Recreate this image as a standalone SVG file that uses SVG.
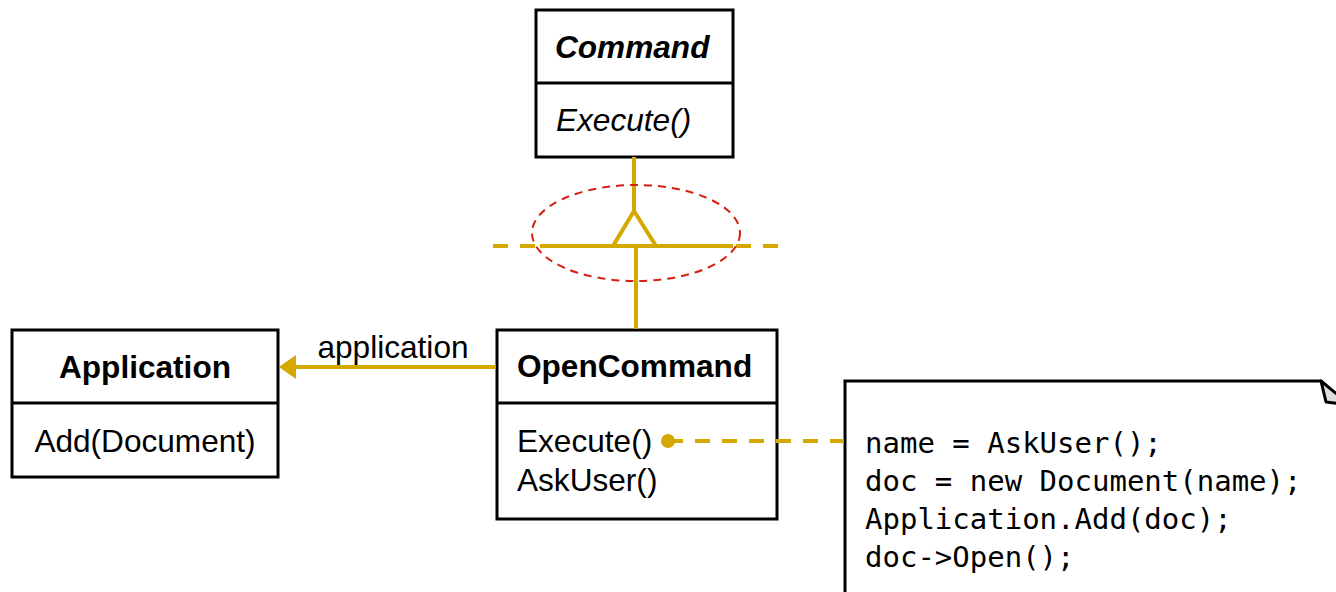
<svg xmlns="http://www.w3.org/2000/svg" width="1336" height="592" viewBox="0 0 1336 592">
  <style>
    .box { fill: #fff; stroke: #000; stroke-width: 3; }
    .sep { stroke: #000; stroke-width: 3; }
    .name { font-family: "Liberation Sans", Arial, sans-serif; font-size: 31.6px; font-weight: bold; fill: #000; }
    .op { font-family: "Liberation Sans", Arial, sans-serif; font-size: 31.6px; fill: #000; }
    .code { font-family: "DejaVu Sans Mono", "Liberation Mono", monospace; font-size: 29px; fill: #000; }
    .link { stroke: #D5A800; stroke-width: 4; fill: none; }
    .dash { stroke-dasharray: 15 12; }
  </style>

  <!-- Command (abstract) -->
  <g id="node-command">
    <rect class="box" x="536" y="10" width="197" height="147"/>
    <line class="sep" x1="536" y1="83" x2="733" y2="83"/>
    <text class="name" x="555" y="58" font-style="italic">Command</text>
    <text class="op" x="556" y="131" font-style="italic">Execute()</text>
  </g>

  <!-- Application -->
  <g id="node-application">
    <rect class="box" x="12" y="330" width="266" height="147"/>
    <line class="sep" x1="12" y1="403" x2="278" y2="403"/>
    <text class="name" x="145" y="378" text-anchor="middle">Application</text>
    <text class="op" x="145" y="452" text-anchor="middle">Add(Document)</text>
  </g>

  <!-- OpenCommand -->
  <g id="node-opencommand">
    <rect class="box" x="497" y="330" width="280" height="189"/>
    <line class="sep" x1="497" y1="403" x2="777" y2="403"/>
    <text class="name" x="517" y="377">OpenCommand</text>
    <text class="op" x="517" y="452">Execute()</text>
    <text class="op" x="517" y="491">AskUser()</text>
  </g>

  <!-- implementation note -->
  <g id="node-note">
    <path d="M845,600 L845,381 L1321,381 L1350,410 L1350,600" fill="#fff" stroke="#000" stroke-width="3"/>
    <polygon points="1321,381 1326,402 1350,405" fill="#ddd" stroke="#000" stroke-width="3" stroke-linejoin="round"/>
    <text class="code" x="865" y="453">name = AskUser();</text>
    <text class="code" x="865" y="491">doc = new Document(name);</text>
    <text class="code" x="865" y="529">Application.Add(doc);</text>
    <text class="code" x="865" y="567">doc-&gt;Open();</text>
  </g>

  <!-- connectors -->
  <g id="connectors">
    <!-- generalization: OpenCommand -> Command -->
    <line class="link" x1="634" y1="157" x2="634" y2="212"/>
    <line class="link dash" x1="493" y1="246" x2="782" y2="246"/>
    <line class="link" x1="540" y1="246" x2="733" y2="246"/>
    <line class="link" x1="636" y1="246" x2="636" y2="329"/>
    <polygon class="link" points="634,211 613,246 656,246" style="fill:#fff"/>
    <ellipse cx="636" cy="233" rx="104" ry="48" fill="none" stroke="#D42010" stroke-width="2" stroke-dasharray="8 6"/>

    <!-- association: OpenCommand -> Application -->
    <line class="link" x1="496" y1="367" x2="295" y2="367"/>
    <path d="M296,355 L279,367 L296,379 Z" fill="#D5A800"/>
    <text class="op" x="393" y="358" text-anchor="middle">application</text>

    <!-- note anchor -->
    <line class="link dash" x1="668" y1="441" x2="844" y2="441"/>
    <circle cx="668" cy="441" r="7" fill="#D5A800"/>
  </g>
</svg>
